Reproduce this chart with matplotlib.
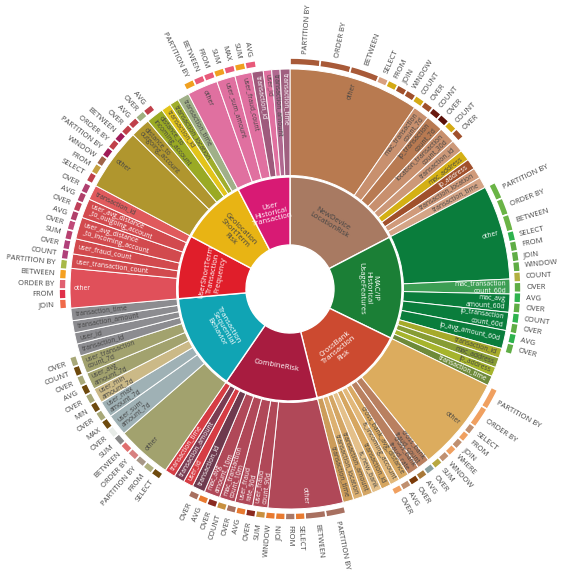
import numpy as np
import matplotlib
matplotlib.use('Agg')
import matplotlib.pyplot as plt

plt.rcParams['font.family'] = ['Open Sans', 'DejaVu Sans']

# ---- inner ring: risk groups (angular size in degrees, clockwise from top)
groups = ['NewDevice\nLocationRisk', 'MAC/IP\nHistorical\nUsageFeatures',
          'CrossBank\nTransaction\nRisk', 'CombineRisk',
          'Transaction\nSequential\nBehavior', 'UserShortTerm\nTransaction\nFrequency',
          'Geolocation\nShortTerm\nRisk', 'User\nHistorical\nTransaction']
group_deg = [62.5, 53.5, 50, 48.5, 50.5, 33, 34.5, 27.5]
group_colors = ['#a87a62', '#1b7f36', '#cc4a30', '#a81c40',
                '#10a4b4', '#e01e2a', '#e8b414', '#d81a74']
group_orient = ['tan', 'tan', 'tan', 'tan', 'tan', 'tan', 'rad', 'tan']

# ---- middle ring: features of each group
newdev_feat = ['other', 'mac_transaction\ncount_7d', 'ip_transaction\ncount_7d',
               'location_transaction\ncount_30d', 'transaction_id', 'mac_address',
               'ip_address', 'transaction_location', 'transaction_time']
newdev_feat_deg = [34.5, 4.3, 4.6, 4.4, 3.3, 2.9, 2.8, 2.8, 2.9]
macip_feat = ['other', 'mac_transaction\ncount_60d', 'mac_avg\namount_60d',
              'ip_transaction\ncount_60d', 'ip_avg_amount_60d', 'transaction_id',
              'mac_address', 'ip_address', 'transaction_time']
macip_feat_deg = [24.9, 3.9, 4.8, 4.8, 4.8, 2.6, 2.6, 2.5, 2.6]
cross_feat = ['other', 'cross_bank\nfraud_count', 'cross_bank\nfraud_rate',
              'cross_bank_avg_distance', 'is_incoming_account', 'transaction_id',
              'is_new_bank', 'transaction_amount', 'transaction_location',
              'transaction_time']
cross_feat_deg = [25, 3.3, 3.2, 2.7, 2.6, 2.6, 2.6, 2.6, 2.6, 2.8]
combine_feat = ['other', 'user_fraud\ncount_90d', 'user_fraud\nrate_90d',
                'mac_transaction\ncount_10m', 'mac_avg\namount_10m', 'transaction_id',
                'user_id', 'transaction_amount', 'transaction_time']
combine_feat_deg = [19.8, 4.0, 4.7, 4.2, 4.2, 3.4, 2.6, 2.8, 2.8]
seq_feat = ['other', 'user_sum\namount_7d', 'user_max\namount_7d', 'user_min\namount_7d',
            'user_avg\namount_7d', 'user_transaction\ncount_7d', 'transaction_id',
            'user_id', 'transaction_amount', 'transaction_time']
seq_feat_deg = [14.5, 5.7, 4.3, 4.0, 4.5, 4.8, 3.2, 3.0, 3.2, 3.3]
short_feat = ['other', 'user_transaction_count', 'user_fraud_count',
              'user_avg_distance\n_to_incoming_account',
              'user_avg_distance\n_to_outgoing_account', 'transaction_id']
short_feat_deg = [10.4, 3.8, 4.0, 5.8, 5.1, 3.9]
geo_feat = ['other', 'distance_to\noutgoing_account', 'distance_to\nincoming_account',
            'transaction_id', 'transaction_location', 'transaction_time']
geo_feat_deg = [16.5, 5.3, 4.6, 2.6, 2.4, 3.1]
hist_feat = ['other', 'user_sum_amount', 'user_fraud_count', 'transaction_id',
             'user_id', 'transaction_amount', 'transaction_time']
hist_feat_deg = [8.1, 4.9, 4.5, 3.0, 2.2, 2.2, 2.6]

newdev_feat_col = ['#b87a50', '#c8906e', '#b87a52', '#c8906e', '#cc9878',
                   '#d4b014', '#a0502c', '#d09a7a', '#d4a486']
macip_feat_col = ['#0a7d3c', '#3c9e54', '#0a7d3c', '#0a7d3c', '#0a7d3c',
                  '#a6aa2a', '#879c34', '#a6b42c', '#6e8a3a']
cross_feat_col = ['#dcac5e', '#b98060', '#b98060', '#d9a962', '#e2b87a',
                  '#d6a660', '#e4c08a', '#d4a664', '#dcb070', '#cc9c5a']
combine_feat_col = ['#b04858', '#b04858', '#b04858', '#b04858', '#b04858',
                    '#6e3a4e', '#d63c44', '#7a3c52', '#d63c44']
seq_feat_col = ['#a2a26e', '#9fb1b5', '#9fb1b5', '#cbb987', '#a2a26e',
                '#a2a26e', '#8c8c90', '#8c8c90', '#8c8c90', '#8c8c90']
short_feat_col = ['#e0505a', '#d24a4e', '#d24a4e', '#d24a4e', '#d24a4e', '#e05a5c']
geo_feat_col = ['#b0962e', '#b0962e', '#9aaa24', '#e2c41a', '#a0ae2c', '#a0b088']
hist_feat_col = ['#e070a0', '#e070a0', '#e070a0', '#9e5a7c', '#e070a0',
                 '#b06890', '#a06080']

# ---- outer ring: SQL keywords used by each group
newdev_kw = ['PARTITION BY', 'ORDER BY', 'BETWEEN', 'SELECT', 'FROM', 'JOIN', 'WINDOW',
             'COUNT', 'OVER', 'COUNT', 'OVER', 'COUNT', 'OVER']
newdev_kw_deg = [7.6, 7.8, 7.3, 2.6, 2.6, 2.6, 2.6, 2.6, 2.6, 2.6, 2.6, 2.6, 2.6]
macip_kw = ['PARTITION BY', 'ORDER BY', 'BETWEEN', 'SELECT', 'FROM', 'JOIN', 'WINDOW',
            'COUNT', 'OVER', 'AVG', 'OVER', 'COUNT', 'OVER', 'AVG', 'OVER']
macip_kw_deg = [4.3, 4.3, 4.2] + [2.6] * 12
cross_kw = ['PARTITION BY', 'ORDER BY', 'SELECT', 'FROM', 'JOIN', 'WHERE', 'WINDOW',
            'SUM', 'OVER', 'AVG', 'OVER', 'AVG', 'OVER']
cross_kw_deg = [5.4, 5.3] + [2.4] * 11
combine_kw = ['PARTITION BY', 'BETWEEN', 'SELECT', 'FROM', 'JOIN', 'WINDOW', 'SUM',
              'OVER', 'AVG', 'OVER', 'COUNT', 'OVER', 'AVG', 'OVER']
combine_kw_deg = [5.0, 5.2] + [2.5] * 12
seq_kw = ['SELECT', 'FROM', 'PARTITION BY', 'ORDER BY', 'BETWEEN', 'SUM', 'OVER', 'MAX',
          'OVER', 'MIN', 'OVER', 'AVG', 'OVER', 'COUNT', 'OVER']
seq_kw_deg = [2.55] * 15
short_kw = ['JOIN', 'FROM', 'ORDER BY', 'BETWEEN', 'PARTITION BY', 'COUNT', 'OVER',
            'SUM', 'OVER', 'AVG', 'OVER', 'AVG', 'OVER']
short_kw_deg = [2.5] * 13
geo_kw = ['SELECT', 'FROM', 'WINDOW', 'PARTITION BY', 'ORDER BY', 'BETWEEN', 'OVER',
          'AVG', 'OVER', 'AVG']
geo_kw_deg = [2.5] * 10
hist_kw = ['PARTITION BY', 'BETWEEN', 'FROM', 'SUM', 'MAX', 'SUM', 'AVG']
hist_kw_deg = [2.7] * 7

newdev_kw_col = ['#a85a38', '#a85a38', '#a85a38', '#d8a080', '#d4aa14', '#a0502c',
                 '#a0502c', '#d4aa14', '#a0502c', '#6a1a10', '#5a1008', '#d4aa14', '#a0502c']
macip_kw_col = ['#6ab446', '#6ab446', '#6ab446', '#2eb24e', '#5fad45', '#5fad45',
                '#5fad45', '#b2b040', '#5fad45', '#2eb24e', '#5fad45', '#2eb24e',
                '#5fad45', '#2eb24e', '#5fad45']
cross_kw_col = ['#f0a060', '#f0a060', '#c09070', '#f0a060', '#c09070', '#f0a060',
                '#c09070', '#b8a840', '#8aa0a0', '#a87838', '#7a3a08', '#c09070', '#f0a060']
combine_kw_col = ['#a87060', '#a87060', '#e87a30', '#a87868', '#e87a30', '#e87a30',
                  '#c89040', '#8a2a20', '#e87a30', '#a87060', '#c89040', '#8a2a20',
                  '#e87a30', '#a87060']
seq_kw_col = ['#6e4a0e', '#b0b080', '#a89888', '#d88080', '#e07070', '#8a8a8a',
              '#e8ece8', '#6e4a0e', '#a8a878', '#6e4a0e', '#a8a878', '#6e4a0e',
              '#a8a878', '#6e4a0e', '#a8a878']
short_kw_col = ['#f06a4a', '#e0304a', '#e06070', '#f5a020', '#a8b848', '#b0407a',
                '#b0407a', '#b84070', '#c04a78', '#b0406a', '#c0405a', '#b0406a', '#b04070']
geo_kw_col = ['#c0404a', '#c4a040', '#a06448', '#a01c58', '#c0404a', '#a01c58',
              '#c0404a', '#c0404a', '#a0b080', '#c0404a']
hist_kw_col = ['#f0a020', '#e85a7a', '#e85a7a', '#f0a020', '#e85a7a', '#f0a020', '#e85a7a']

features = [newdev_feat, macip_feat, cross_feat, combine_feat, seq_feat, short_feat, geo_feat, hist_feat]
feature_deg = [newdev_feat_deg, macip_feat_deg, cross_feat_deg, combine_feat_deg,
               seq_feat_deg, short_feat_deg, geo_feat_deg, hist_feat_deg]
feature_col = [newdev_feat_col, macip_feat_col, cross_feat_col, combine_feat_col,
               seq_feat_col, short_feat_col, geo_feat_col, hist_feat_col]
keywords = [newdev_kw, macip_kw, cross_kw, combine_kw, seq_kw, short_kw, geo_kw, hist_kw]
keyword_deg = [newdev_kw_deg, macip_kw_deg, cross_kw_deg, combine_kw_deg,
               seq_kw_deg, short_kw_deg, geo_kw_deg, hist_kw_deg]
keyword_col = [newdev_kw_col, macip_kw_col, cross_kw_col, combine_kw_col,
               seq_kw_col, short_kw_col, geo_kw_col, hist_kw_col]

# ring radii in pixels
r_hole, r_in, r_mid, r_kw0, r_kw1, r_lab = 44, 112, 220, 224, 231, 236


def text_color(c):
    r, g, b = [int(c[i:i + 2], 16) for i in (1, 3, 5)]
    return '#444444' if (r * 299 + g * 587 + b * 114) / 1000 >= 128 else 'white'


def upright(rot):
    rot = rot % 360
    if rot > 180:
        rot -= 360
    if rot > 90:
        rot -= 180
    if rot < -90:
        rot += 180
    return rot


W, H = 562, 576
cx, cy, R = 290, 289, 232
fig = plt.figure(figsize=(W / 100, H / 100), dpi=100)
ax = fig.add_axes([(cx - R) / W, (H - cy - R) / H, 2 * R / W, 2 * R / H], projection='polar')
ax.set_theta_zero_location('N')
ax.set_theta_direction(-1)
ax.set_ylim(0, R)
ax.set_axis_off()

start = 0.0
for gi, g in enumerate(groups):
    w = group_deg[gi]
    ax.bar(np.radians(start), r_in - r_hole, width=np.radians(w), bottom=r_hole,
           align='edge', color=group_colors[gi], edgecolor='white', linewidth=1.0)
    mid = start + w / 2
    rot = upright(-mid) if group_orient[gi] == 'tan' else upright(90 - mid)
    ax.text(np.radians(mid), (r_hole + r_in) / 2, g, rotation=rot,
            rotation_mode='anchor', ha='center', va='center', multialignment='center',
            fontsize=5.5, linespacing=1.0, color=text_color(group_colors[gi]))

    s = start
    for name, d, c in zip(features[gi], feature_deg[gi], feature_col[gi]):
        ax.bar(np.radians(s), r_mid - r_in - 1.5, width=np.radians(d), bottom=r_in + 1.5,
               align='edge', color=c, edgecolor='white', linewidth=0.7)
        m = s + d / 2
        if m < 180:
            rot, ha = 90 - m, 'right'
        else:
            rot, ha = 270 - m, 'left'
        ax.text(np.radians(m), r_mid - 4, name, rotation=rot, rotation_mode='anchor',
                ha=ha, va='center', multialignment=ha, fontsize=4.9, linespacing=0.95,
                color=text_color(c))
        s += d

    s = start
    for name, d, c in zip(keywords[gi], keyword_deg[gi], keyword_col[gi]):
        ax.bar(np.radians(s), r_kw1 - r_kw0, width=np.radians(d), bottom=r_kw0,
               align='edge', color=c, edgecolor='white', linewidth=1.2)
        m = s + d / 2
        if m < 180:
            rot, ha = 90 - m, 'left'
        else:
            rot, ha = 270 - m, 'right'
        ax.text(np.radians(m), r_lab, name, rotation=rot, rotation_mode='anchor',
                ha=ha, va='center', fontsize=5.5, color='#444444', clip_on=False)
        s += d
    start += w

fig.savefig('out.png', dpi=100)
